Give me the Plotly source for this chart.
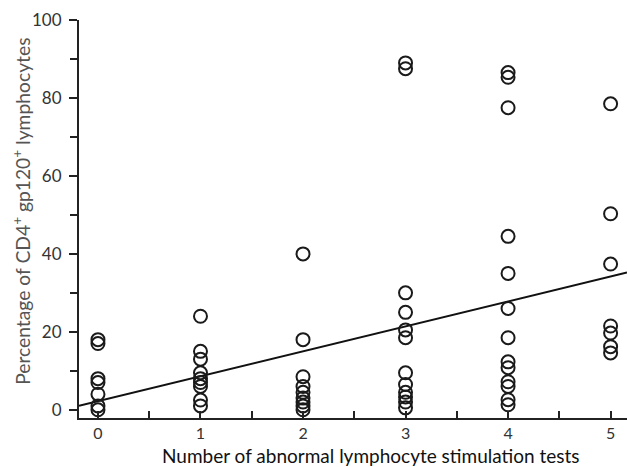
import plotly.graph_objects as go

# Data
x0_vals = [18, 17, 8, 7, 4, 1, 0]
x1_vals = [24, 15, 13, 9.5, 8, 7, 6, 2.5, 1]
x2_vals = [40, 18, 8.5, 6, 4.5, 3, 2, 1, 0]
x3_vals = [89, 87.5, 30, 25, 20.5, 18.5, 9.5, 6.5, 4.5, 3.3, 2, 0.5]
x4_vals = [86.5, 85.3, 77.5, 44.5, 35, 26, 18.5, 12.3, 10.8, 7.2, 6, 2.6, 1.3]
x5_vals = [78.5, 50.3, 37.4, 21.5, 19.7, 16.2, 14.6]
groups = [0, 1, 2, 3, 4, 5]
fit_intercept = 2.2
fit_slope = 6.4

x_tick_vals = [0, 1, 2, 3, 4, 5]
x_tick_text = ["0", "1", "2", "3", "4", "5"]
y_tick_vals = [0, 20, 40, 60, 80, 100]
y_tick_text = ["0", "20", "40", "60", "80", "100"]

x_range = [-0.185, 5.16]
y_range = [-2.1, 100]

all_vals = [x0_vals, x1_vals, x2_vals, x3_vals, x4_vals, x5_vals]
xs, ys = [], []
for g, vals in zip(groups, all_vals):
    xs += [g] * len(vals)
    ys += vals

FONT = "Lato"
fig = go.Figure()
line_x = x_range
line_y = [fit_intercept + fit_slope * v for v in line_x]
fig.add_trace(go.Scatter(x=line_x, y=line_y, mode="lines",
                         line=dict(color="#111", width=2), hoverinfo="skip"))
fig.add_trace(go.Scatter(x=xs, y=ys, mode="markers",
                         marker=dict(symbol="circle-open", size=13, color="#1a1a1a",
                                     line=dict(color="#1a1a1a", width=2))))

fig.update_layout(
    width=627, height=467,
    margin=dict(l=79, r=0, t=20, b=49),
    paper_bgcolor="white", plot_bgcolor="white",
    showlegend=False,
    font=dict(family=FONT, color="#333"),
    xaxis=dict(range=x_range, tickvals=x_tick_vals, ticktext=x_tick_text,
               ticks="inside", ticklen=7, tickwidth=1.5, tickcolor="#222",
               minor=dict(ticks="inside", dtick=0.5, tick0=0, ticklen=7, tickwidth=1.5, tickcolor="#222"),
               showline=True, linecolor="#222", linewidth=2,
               showgrid=False, zeroline=False, automargin=False,
               tickfont=dict(size=16, color="#333", family=FONT)),
    yaxis=dict(range=y_range, tickvals=y_tick_vals, ticktext=y_tick_text,
               ticks="outside", ticklen=8, tickwidth=1.5, tickcolor="#222",
               minor=dict(ticks="outside", dtick=10, tick0=0, ticklen=7, tickwidth=1.5, tickcolor="#222"),
               showline=True, linecolor="#222", linewidth=2,
               showgrid=False, zeroline=False, ticklabelstandoff=4, automargin=False,
               tickfont=dict(size=17, color="#333", family=FONT)),
    annotations=[
        dict(text="Number of abnormal lymphocyte stimulation tests",
             xref="paper", yref="paper", x=0.533, y=-0.094,
             xanchor="center", yanchor="middle", showarrow=False,
             font=dict(size=19, color="#111", family=FONT)),
        dict(text="Percentage of CD4<sup>+</sup> gp120<sup>+</sup> lymphocytes",
             xref="paper", yref="paper", x=-0.104, y=0.518,
             xanchor="center", yanchor="middle", showarrow=False, textangle=-90,
             font=dict(size=19.3, color="#555", family=FONT)),
    ],
)

fig.write_html("out.html", config={"displayModeBar": False},
               post_script="document.body.style.margin='0';document.body.style.overflow='hidden';")
